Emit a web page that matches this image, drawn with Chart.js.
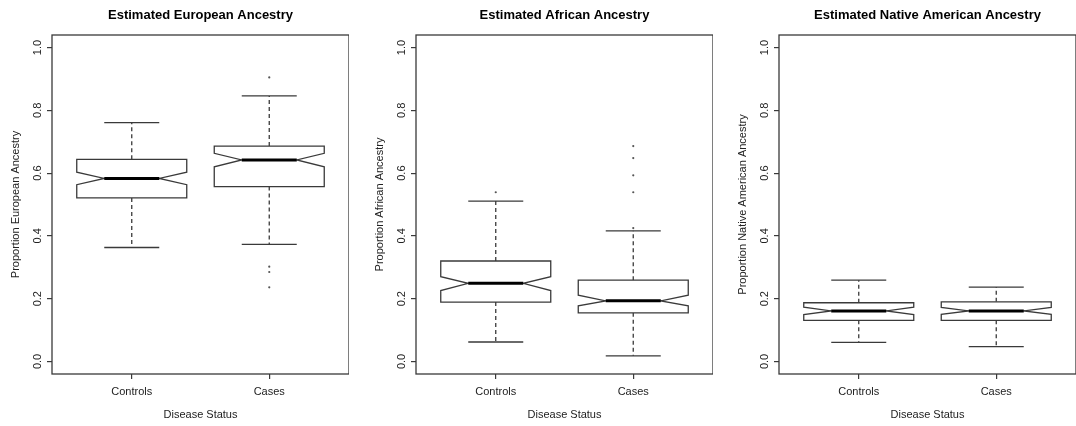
<!DOCTYPE html>
<html>
<head>
<meta charset="utf-8">
<script src="https://cdn.jsdelivr.net/npm/chart.js@4"></script>
<style>
body { margin: 0; background: #fff; }
.panel { position: absolute; top: 0; }
</style>
</head>
<body>
<canvas id="chartEuro" class="panel" width="349" height="426" style="left:0px"></canvas>
<canvas id="chartAfr" class="panel" width="349" height="426" style="left:364px"></canvas>
<canvas id="chartNat" class="panel" width="349" height="426" style="left:727px"></canvas>
<script>
const categories = ['Controls', 'Cases'];
const yTicks = [0, 0.2, 0.4, 0.6, 0.8, 1.0];

// european ancestry (controls, cases)
const euroLow = [0.363, 0.373];
const euroQ1 = [0.521, 0.557];
const euroNotchLow = [0.563, 0.620];
const euroMedian = [0.583, 0.642];
const euroNotchHigh = [0.603, 0.663];
const euroQ3 = [0.644, 0.686];
const euroHigh = [0.761, 0.846];
const euroOutControls = [];
const euroOutCases = [0.905, 0.302, 0.285, 0.236];

// african ancestry
const afrLow = [0.062, 0.018];
const afrQ1 = [0.189, 0.155];
const afrNotchLow = [0.226, 0.177];
const afrMedian = [0.249, 0.193];
const afrNotchHigh = [0.270, 0.211];
const afrQ3 = [0.320, 0.259];
const afrHigh = [0.511, 0.416];
const afrOutControls = [0.539];
const afrOutCases = [0.686, 0.648, 0.593, 0.539, 0.425];

// native american ancestry
const natLow = [0.061, 0.047];
const natQ1 = [0.131, 0.131];
const natNotchLow = [0.149, 0.150];
const natMedian = [0.161, 0.161];
const natNotchHigh = [0.173, 0.172];
const natQ3 = [0.187, 0.190];
const natHigh = [0.259, 0.237];
const natOutControls = [];
const natOutCases = [];

const fontFam = '"Liberation Sans", Arial, sans-serif';
const lineCol = '#3a3a3a';

function boxPlugin(st) {
    return {
        id: 'notchBoxes',
        beforeDatasetsDraw(chart) {
            const ctx = chart.ctx;
            const x = chart.scales.x, y = chart.scales.y;
            ctx.save();
            ctx.strokeStyle = lineCol;
            ctx.lineWidth = 1.3;
            for (let i = 0; i < categories.length; i++) {
                const c = i + 1;
                const px = v => x.getPixelForValue(v);
                const py = v => y.getPixelForValue(v);
                const L = px(c - 0.4), R = px(c + 0.4), nl = px(c - 0.2), nr = px(c + 0.2), m = px(c);
                // whiskers
                ctx.setLineDash([4, 3]);
                ctx.beginPath();
                ctx.moveTo(m, py(st.q3[i])); ctx.lineTo(m, py(st.high[i]));
                ctx.moveTo(m, py(st.q1[i])); ctx.lineTo(m, py(st.low[i]));
                ctx.stroke();
                ctx.setLineDash([]);
                ctx.beginPath();
                ctx.moveTo(nl, py(st.high[i])); ctx.lineTo(nr, py(st.high[i]));
                ctx.moveTo(nl, py(st.low[i])); ctx.lineTo(nr, py(st.low[i]));
                ctx.stroke();
                // notched box
                ctx.beginPath();
                ctx.moveTo(L, py(st.q3[i]));
                ctx.lineTo(R, py(st.q3[i]));
                ctx.lineTo(R, py(st.nhi[i]));
                ctx.lineTo(nr, py(st.med[i]));
                ctx.lineTo(R, py(st.nlo[i]));
                ctx.lineTo(R, py(st.q1[i]));
                ctx.lineTo(L, py(st.q1[i]));
                ctx.lineTo(L, py(st.nlo[i]));
                ctx.lineTo(nl, py(st.med[i]));
                ctx.lineTo(L, py(st.nhi[i]));
                ctx.closePath();
                ctx.fillStyle = '#fff';
                ctx.fill();
                ctx.stroke();
                // median
                ctx.lineWidth = 3;
                ctx.strokeStyle = '#000';
                ctx.beginPath();
                ctx.moveTo(nl, py(st.med[i])); ctx.lineTo(nr, py(st.med[i]));
                ctx.stroke();
                ctx.lineWidth = 1.3;
                ctx.strokeStyle = lineCol;
            }
            ctx.restore();
        },
        afterDraw(chart) {
            const {ctx, chartArea} = chart;
            ctx.save();
            ctx.strokeStyle = lineCol;
            ctx.lineWidth = 1.3;
            ctx.strokeRect(chartArea.left, chartArea.top, chartArea.right - chartArea.left, chartArea.bottom - chartArea.top);
            ctx.restore();
        }
    };
}

function makePanel(id, title, yTitle, st, outliers) {
    const pts = [];
    outliers.forEach((arr, i) => arr.forEach(v => pts.push({x: i + 1, y: v})));
    return new Chart(document.getElementById(id), {
        type: 'scatter',
        data: {
            datasets: [{
                data: pts,
                pointRadius: 1.1,
                pointHoverRadius: 0,
                pointBackgroundColor: '#555',
                pointBorderWidth: 0
            }]
        },
        options: {
            responsive: false,
            animation: false,
            layout: { padding: 0, autoPadding: false },
            plugins: {
                legend: { display: false },
                tooltip: { enabled: false },
                title: {
                    display: true,
                    text: title,
                    fullSize: false,
                    color: '#000',
                    font: { family: fontFam, size: 13, weight: 'bold' },
                    padding: { top: 8, bottom: 11.4 }
                }
            },
            scales: {
                x: {
                    type: 'linear',
                    min: 0.42,
                    max: 2.58,
                    afterBuildTicks: sc => { sc.ticks = categories.map((c, i) => ({ value: i + 1 })); },
                    afterFit: sc => { sc.height = 52; },
                    ticks: {
                        callback: (v, i) => categories[i],
                        color: '#222',
                        padding: 6,
                        font: { family: fontFam, size: 11 }
                    },
                    grid: { drawOnChartArea: false, tickLength: 5, color: lineCol, lineWidth: 1.2 },
                    border: { display: false },
                    title: {
                        display: true,
                        text: 'Disease Status',
                        color: '#222',
                        padding: { top: 0, bottom: 4 },
                        font: { family: fontFam, size: 11 }
                    }
                },
                y: {
                    min: -0.04,
                    max: 1.04,
                    afterBuildTicks: sc => { sc.ticks = yTicks.map(v => ({ value: v })); },
                    afterFit: sc => { sc.width = 52; },
                    ticks: {
                        callback: v => v.toFixed(1),
                        minRotation: 90,
                        maxRotation: 90,
                        crossAlign: 'center',
                        color: '#222',
                        padding: 1.5,
                        font: { family: fontFam, size: 11 }
                    },
                    grid: { drawOnChartArea: false, tickLength: 5, color: lineCol, lineWidth: 1.2 },
                    border: { display: false },
                    title: {
                        display: true,
                        text: yTitle,
                        color: '#222',
                        padding: { top: 9, bottom: 0 },
                        font: { family: fontFam, size: 11 }
                    }
                }
            }
        },
        plugins: [boxPlugin(st)]
    });
}

makePanel('chartEuro', 'Estimated European Ancestry', 'Proportion European Ancestry',
    { low: euroLow, q1: euroQ1, nlo: euroNotchLow, med: euroMedian, nhi: euroNotchHigh, q3: euroQ3, high: euroHigh },
    [euroOutControls, euroOutCases]);
makePanel('chartAfr', 'Estimated African Ancestry', 'Proportion African Ancestry',
    { low: afrLow, q1: afrQ1, nlo: afrNotchLow, med: afrMedian, nhi: afrNotchHigh, q3: afrQ3, high: afrHigh },
    [afrOutControls, afrOutCases]);
makePanel('chartNat', 'Estimated Native American Ancestry', 'Proportion Native American Ancestry',
    { low: natLow, q1: natQ1, nlo: natNotchLow, med: natMedian, nhi: natNotchHigh, q3: natQ3, high: natHigh },
    [natOutControls, natOutCases]);
</script>
</body>
</html>
